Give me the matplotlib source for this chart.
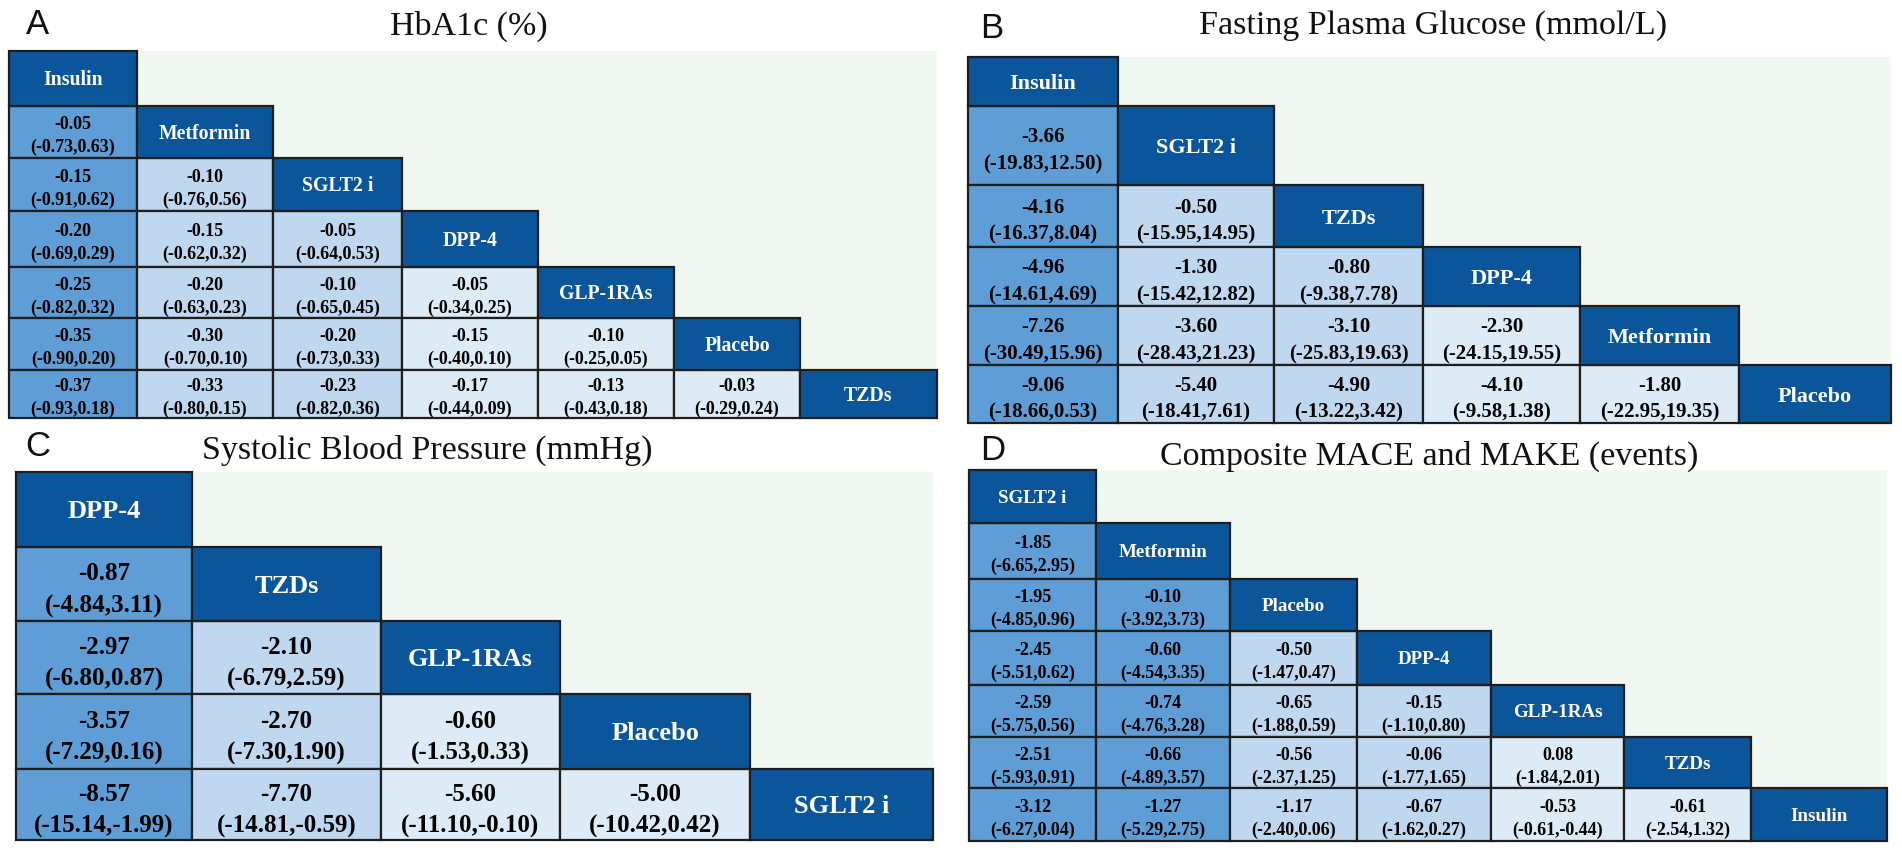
import matplotlib
matplotlib.use("Agg")
import matplotlib.pyplot as plt
from matplotlib.patches import Rectangle

# ---------------- data ----------------
hba1c_labels = ["Insulin", "Metformin", "SGLT2 i", "DPP-4", "GLP-1RAs", "Placebo", "TZDs"]
hba1c_est = [[-0.05],
             [-0.15, -0.10],
             [-0.20, -0.15, -0.05],
             [-0.25, -0.20, -0.10, -0.05],
             [-0.35, -0.30, -0.20, -0.15, -0.10],
             [-0.37, -0.33, -0.23, -0.17, -0.13, -0.03]]
hba1c_lo = [[-0.73],
            [-0.91, -0.76],
            [-0.69, -0.62, -0.64],
            [-0.82, -0.63, -0.65, -0.34],
            [-0.90, -0.70, -0.73, -0.40, -0.25],
            [-0.93, -0.80, -0.82, -0.44, -0.43, -0.29]]
hba1c_hi = [[0.63],
            [0.62, 0.56],
            [0.29, 0.32, 0.53],
            [0.32, 0.23, 0.45, 0.25],
            [0.20, 0.10, 0.33, 0.10, 0.05],
            [0.18, 0.15, 0.36, 0.09, 0.18, 0.24]]

fpg_labels = ["Insulin", "SGLT2 i", "TZDs", "DPP-4", "Metformin", "Placebo"]
fpg_est = [[-3.66],
           [-4.16, -0.50],
           [-4.96, -1.30, -0.80],
           [-7.26, -3.60, -3.10, -2.30],
           [-9.06, -5.40, -4.90, -4.10, -1.80]]
fpg_lo = [[-19.83],
          [-16.37, -15.95],
          [-14.61, -15.42, -9.38],
          [-30.49, -28.43, -25.83, -24.15],
          [-18.66, -18.41, -13.22, -9.58, -22.95]]
fpg_hi = [[12.50],
          [8.04, 14.95],
          [4.69, 12.82, 7.78],
          [15.96, 21.23, 19.63, 19.55],
          [0.53, 7.61, 3.42, 1.38, 19.35]]

sbp_labels = ["DPP-4", "TZDs", "GLP-1RAs", "Placebo", "SGLT2 i"]
sbp_est = [[-0.87],
           [-2.97, -2.10],
           [-3.57, -2.70, -0.60],
           [-8.57, -7.70, -5.60, -5.00]]
sbp_lo = [[-4.84],
          [-6.80, -6.79],
          [-7.29, -7.30, -1.53],
          [-15.14, -14.81, -11.10, -10.42]]
sbp_hi = [[3.11],
          [0.87, 2.59],
          [0.16, 1.90, 0.33],
          [-1.99, -0.59, -0.10, 0.42]]

mace_labels = ["SGLT2 i", "Metformin", "Placebo", "DPP-4", "GLP-1RAs", "TZDs", "Insulin"]
mace_est = [[-1.85],
            [-1.95, -0.10],
            [-2.45, -0.60, -0.50],
            [-2.59, -0.74, -0.65, -0.15],
            [-2.51, -0.66, -0.56, -0.06, 0.08],
            [-3.12, -1.27, -1.17, -0.67, -0.53, -0.61]]
mace_lo = [[-6.65],
           [-4.85, -3.92],
           [-5.51, -4.54, -1.47],
           [-5.75, -4.76, -1.88, -1.10],
           [-5.93, -4.89, -2.37, -1.77, -1.84],
           [-6.27, -5.29, -2.40, -1.62, -0.61, -2.54]]
mace_hi = [[2.95],
           [0.96, 3.73],
           [0.62, 3.35, 0.47],
           [0.56, 3.28, 0.59, 0.80],
           [0.91, 3.57, 1.25, 1.65, 2.01],
           [0.04, 2.75, 0.06, 0.27, -0.44, 1.32]]

titles = ["HbA1c (%)", "Fasting Plasma Glucose (mmol/L)",
          "Systolic Blood Pressure (mmHg)", "Composite MACE and MAKE (events)"]
letters = ["A", "B", "C", "D"]

# ---------------- style / layout ----------------
W, H = 1902, 852
HEAD = "#0B559A"
MED = "#5E9DD5"
LIGHT = "#BFD8EF"
VLIGHT = "#DDEBF7"
GREEN = "#F1F8F1"
EDGE = "#1E1E1E"
SERIF = "Liberation Serif"
SANS = "Liberation Sans"

panels = [
    dict(labels=hba1c_labels, est=hba1c_est, lo=hba1c_lo, hi=hba1c_hi,
         cols=[9, 137, 273, 402, 538, 674, 800, 937],
         rows=[51, 106, 158, 211, 267, 318, 370, 418],
         fs_val=13, fs_head=14.2,
         shades=[MED, LIGHT, LIGHT, VLIGHT, VLIGHT, VLIGHT],
         title_xy=(469, 26), letter_xy=(37, 25)),
    dict(labels=fpg_labels, est=fpg_est, lo=fpg_lo, hi=fpg_hi,
         cols=[968, 1118, 1274, 1423, 1580, 1739, 1891],
         rows=[57, 106, 185, 247, 306, 365, 423],
         fs_val=15, fs_head=16,
         shades=[MED, LIGHT, LIGHT, VLIGHT, VLIGHT],
         title_xy=(1433, 26), letter_xy=(992, 28)),
    dict(labels=sbp_labels, est=sbp_est, lo=sbp_lo, hi=sbp_hi,
         cols=[16, 192, 381, 560, 750, 933],
         rows=[472, 547, 621, 694, 769, 840],
         fs_val=18, fs_head=19,
         shades=[MED, LIGHT, VLIGHT, VLIGHT],
         title_xy=(427, 450), letter_xy=(38, 446)),
    dict(labels=mace_labels, est=mace_est, lo=mace_lo, hi=mace_hi,
         cols=[969, 1096, 1230, 1357, 1491, 1624, 1751, 1887],
         rows=[470, 523, 579, 631, 685, 737, 788, 841],
         fs_val=13, fs_head=13.7,
         shades=[MED, MED, LIGHT, LIGHT, VLIGHT, VLIGHT],
         title_xy=(1429, 456), letter_xy=(993, 451)),
]

fig = plt.figure(figsize=(W / 100, H / 100), dpi=100)
fig.patch.set_facecolor("white")

# overlay axes for titles and panel letters in pixel coordinates (drawn on top)
tax = fig.add_axes([0, 0, 1, 1])
tax.set_xlim(0, W)
tax.set_ylim(H, 0)
tax.axis("off")
tax.set_zorder(10)
tax.patch.set_alpha(0)

PX = 100 / 72.0  # pixels per point

for k, p in enumerate(panels):
    cols, rows = p["cols"], p["rows"]
    x0, x1, y0, y1 = cols[0], cols[-1], rows[0], rows[-1]
    ax = fig.add_axes([x0 / W, 1 - y1 / H, (x1 - x0) / W, (y1 - y0) / H])
    ax.set_xlim(x0, x1)
    ax.set_ylim(y1, y0)
    ax.axis("off")
    ax.add_patch(Rectangle((x0, y0), x1 - x0, y1 - y0, fc=GREEN, ec="none",
                           zorder=0, clip_on=False))
    labels = p["labels"]
    n = len(labels)
    fsv = p["fs_val"] * PX
    fsh = p["fs_head"] * PX
    for i in range(n):
        # header cell on the diagonal
        cx0, cx1 = cols[i], cols[i + 1]
        cy0, cy1 = rows[i], rows[i + 1]
        ax.add_patch(Rectangle((cx0, cy0), cx1 - cx0, cy1 - cy0, fc=HEAD,
                               ec=EDGE, lw=1.6, zorder=2, clip_on=False))
        ax.text((cx0 + cx1) / 2, (cy0 + cy1) / 2 + 0.34 * fsh, labels[i],
                ha="center", va="baseline", color="white", fontsize=p["fs_head"],
                fontweight="bold", family=SERIF, zorder=4)
        if i == 0:
            continue
        for j in range(i):
            e = p["est"][i - 1][j]
            lo = p["lo"][i - 1][j]
            hi = p["hi"][i - 1][j]
            bx0, bx1 = cols[j], cols[j + 1]
            ax.add_patch(Rectangle((bx0, cy0), bx1 - bx0, cy1 - cy0,
                                   fc=p["shades"][j], ec=EDGE, lw=1.6, zorder=1,
                                   clip_on=False))
            cx = (bx0 + bx1) / 2
            cy = (cy0 + cy1) / 2
            ax.text(cx, cy - 0.15 * fsv, f"{e:.2f}", ha="center", va="baseline",
                    fontsize=p["fs_val"], fontweight="bold", family=SERIF,
                    color="black", zorder=4)
            ax.text(cx, cy + 1.13 * fsv, f"({lo:.2f},{hi:.2f})", ha="center",
                    va="baseline", fontsize=p["fs_val"], fontweight="bold",
                    family=SERIF, color="black", zorder=4)

    tx, ty = p["title_xy"]
    tax.text(tx, ty, titles[k], ha="center", va="center", fontsize=24.5,
             family=SERIF, color="#111111")
    lx, ly = p["letter_xy"]
    tax.text(lx, ly, letters[k], ha="center", va="center", fontsize=25,
             family=SANS, color="#111111")

fig.savefig("out.png", dpi=100, facecolor="white")
